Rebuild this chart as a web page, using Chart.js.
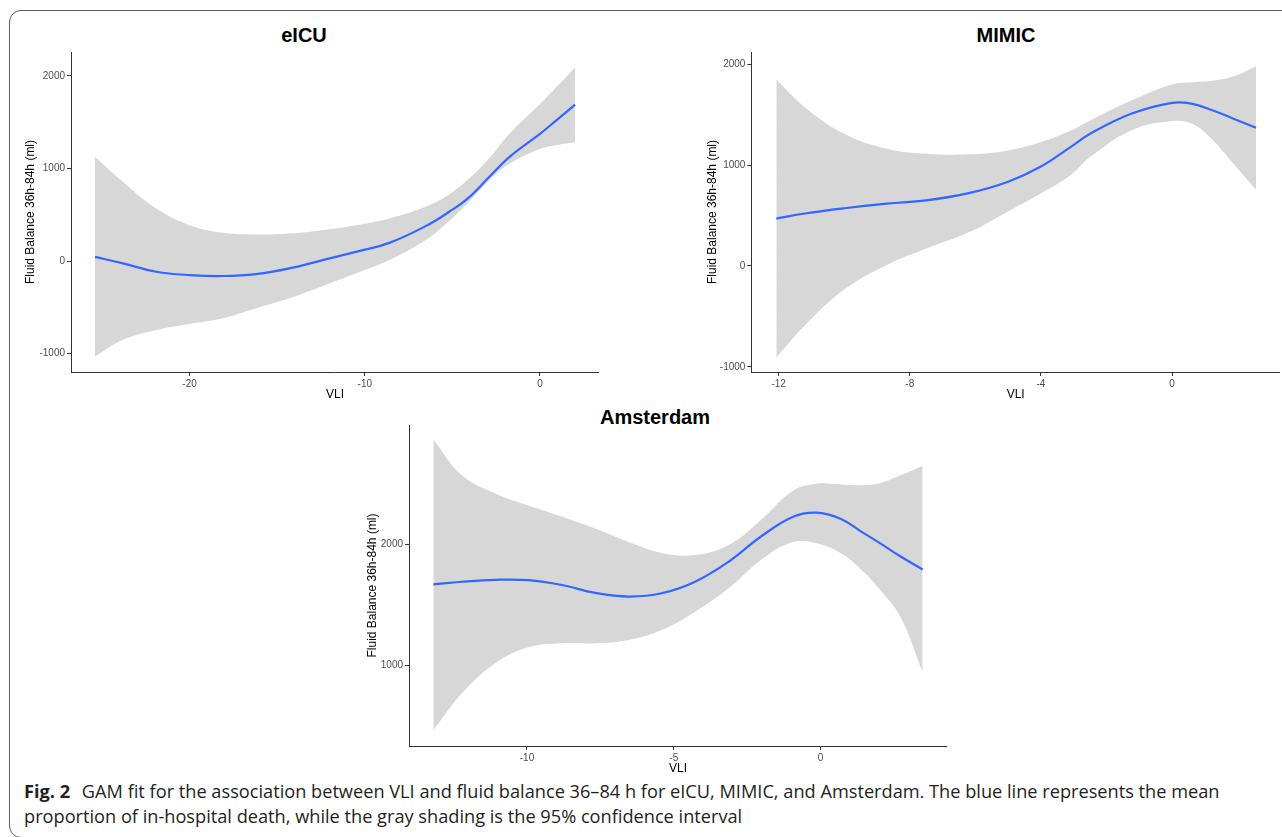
<!DOCTYPE html>
<html><head><meta charset="utf-8">
<script src="https://cdn.jsdelivr.net/npm/chart.js@4.4.1/dist/chart.umd.min.js"></script>
<style>
html,body{margin:0;padding:0;background:#fff;width:1282px;height:837px;overflow:hidden;position:relative;font-family:"Liberation Sans",Arial,sans-serif;}
.frame{position:absolute;left:9px;top:10px;width:1320px;height:828px;border:1.5px solid #5e5e5e;border-radius:12px;box-sizing:border-box;}
.panel{position:absolute;}
.panel canvas{display:block;}
.ptitle{position:absolute;font:bold 20px "Liberation Sans",Arial,sans-serif;line-height:20px;transform:translate(-50%,-50%);white-space:nowrap;color:#000;}
.caption{position:absolute;left:24px;top:779px;font-family:"Open Sans",sans-serif;font-size:18.2px;line-height:25px;color:#231f20;white-space:nowrap;}
.caption b{font-weight:700;margin-right:7px;}
</style></head>
<body>
<div class="frame"></div>
<div class="ptitle" style="left:304px;top:35px">eICU</div>
<div class="ptitle" style="left:1006px;top:35px">MIMIC</div>
<div class="ptitle" style="left:655px;top:417px">Amsterdam</div>
<div class="panel" style="left:23px;top:52px"><canvas id="c1" width="576" height="350"></canvas></div>
<div class="panel" style="left:705px;top:52px"><canvas id="c2" width="575" height="350"></canvas></div>
<div class="panel" style="left:365px;top:425px"><canvas id="c3" width="582" height="351"></canvas></div>
<div class="caption"><b>Fig. 2</b> GAM fit for the association between VLI and fluid balance 36–84 h for eICU, MIMIC, and Amsterdam. The blue line represents the mean<br>proportion of in-hospital death, while the gray shading is the 95% confidence interval</div>
<script>
// ---- eICU ----
const eicuX     = [-25.4, -23.8, -21.9, -20, -18.1, -16.2, -14.3, -12.4, -10.5, -8.6, -6.5, -5.2, -4.1, -2.9, -1.75, 0, 1, 2];
const eicuMean  = [46, -25, -115, -151, -161, -140, -79, 11, 100, 197, 380, 530, 680, 907, 1122, 1373, 1530, 1688];
const eicuUpper = [1123, 854, 567, 387, 305, 287, 298, 334, 387, 460, 590, 720, 880, 1110, 1373, 1695, 1890, 2090];
const eicuLower = [-1030, -850, -743, -678, -617, -509, -402, -269, -132, 11, 230, 430, 630, 870, 1050, 1211, 1254, 1283];
const eicuXTicks = [-20, -10, 0];
const eicuYTicks = [-1000, 0, 1000, 2000];

// ---- MIMIC ----
const mimicX     = [-12.07, -11.2, -10, -8.7, -7.5, -6.2, -5, -4, -3.1, -2.5, -1.25, 0, 0.62, 1.25, 1.87, 2.56];
const mimicMean  = [469, 520, 572, 618, 650, 722, 835, 985, 1178, 1310, 1508, 1617, 1607, 1541, 1460, 1370];
const mimicUpper = [1845, 1574, 1310, 1162, 1112, 1106, 1145, 1228, 1340, 1442, 1640, 1799, 1820, 1838, 1878, 1977];
const mimicLower = [-908, -590, -235, 10, 172, 333, 540, 720, 900, 1079, 1343, 1436, 1409, 1244, 1013, 756];
const mimicXTicks = [-12, -8, -4, 0];
const mimicYTicks = [-1000, 0, 1000, 2000];

// ---- Amsterdam ----
const amsX     = [-13.19, -12.22, -11.08, -9.95, -8.81, -7.68, -6.54, -5.41, -4.27, -3.13, -2.05, -0.95, -0.14, 0.68, 1.36, 2.05, 2.73, 3.48];
const amsMean  = [1670, 1692, 1708, 1705, 1665, 1600, 1570, 1597, 1692, 1857, 2061, 2226, 2262, 2212, 2110, 2006, 1900, 1793];
const amsUpper = [2865, 2570, 2420, 2320, 2228, 2131, 2020, 1930, 1912, 1995, 2198, 2441, 2500, 2495, 2488, 2507, 2570, 2647];
const amsLower = [469, 771, 1019, 1151, 1184, 1184, 1211, 1294, 1445, 1638, 1868, 2019, 2010, 1930, 1800, 1620, 1399, 945];
const amsXTicks = [-10, -5, 0];
const amsYTicks = [1000, 2000];

const xTitle = 'VLI';
const yTitle = 'Fluid Balance 36h-84h (ml)';

function pts(xs, ys){ return xs.map((x,i)=>({x:x, y:ys[i]})); }

function makePanel(id, xs, mean, lower, upper, xLim, yLim, xTicks, yTicks, yWidth, xHeight){
  const tickFont = {family:'"Liberation Sans", Arial, sans-serif', size:10};
  const titleFont = {family:'"Liberation Sans", Arial, sans-serif', size:12};
  const axisCommon = {
    type:'linear',
    grid:{display:true, drawOnChartArea:false, drawTicks:true, tickLength:4, color:'#333333', lineWidth:1},
    border:{display:true, color:'#333333', width:1},
    ticks:{color:'#4d4d4d', font:tickFont, padding:2, callback:v=>String(v)}
  };
  new Chart(document.getElementById(id), {
    type:'line',
    data:{datasets:[
      {data:pts(xs, mean), borderColor:'#3366ff', borderWidth:2.2, pointRadius:0, fill:false, tension:0.4},
      {data:pts(xs, lower), borderWidth:0, borderColor:'rgba(0,0,0,0)', pointRadius:0, fill:false, tension:0.4},
      {data:pts(xs, upper), borderWidth:0, borderColor:'rgba(0,0,0,0)', backgroundColor:'#d7d7d7', pointRadius:0, fill:'-1', tension:0.4}
    ]},
    options:{
      responsive:false, animation:false, devicePixelRatio:1,
      layout:{padding:0},
      plugins:{legend:{display:false}, tooltip:{enabled:false}, title:{display:false}},
      scales:{
        x:Object.assign({}, axisCommon, {
          position:'bottom', min:xLim[0], max:xLim[1],
          title:{display:true, text:xTitle, color:'#000', font:titleFont, padding:0},
          afterBuildTicks:s=>{ s.ticks = xTicks.map(v=>({value:v})); },
          afterFit:s=>{ s.height = xHeight; s.paddingLeft=0; s.paddingRight=0; s.paddingTop=0; s.paddingBottom=0; }
        }),
        y:Object.assign({}, axisCommon, {
          position:'left', min:yLim[0], max:yLim[1],
          title:{display:true, text:yTitle, color:'#000', font:titleFont, padding:0},
          afterBuildTicks:s=>{ s.ticks = yTicks.map(v=>({value:v})); },
          afterFit:s=>{ s.width = yWidth; s.paddingLeft=0; s.paddingRight=0; s.paddingTop=0; s.paddingBottom=0; }
        })
      }
    }
  });
}

makePanel('c1', eicuX, eicuMean, eicuLower, eicuUpper, [-26.77, 3.37], [-1197, 2257], eicuXTicks, eicuYTicks, 48, 30);
makePanel('c2', mimicX, mimicMean, mimicLower, mimicUpper, [-12.83, 3.29], [-1052, 2121], mimicXTicks, mimicYTicks, 46.4, 30);
makePanel('c3', amsX, amsMean, amsLower, amsUpper, [-14.02, 4.31], [337, 2985], amsXTicks, amsYTicks, 44, 30);
</script>
</body></html>
